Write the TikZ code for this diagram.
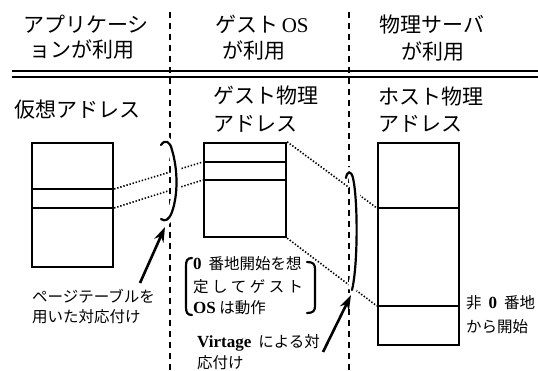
\documentclass[tikz,border=0pt]{standalone}
\usepackage{fontspec}
\setmainfont{Liberation Serif}
\newfontfamily\jp{Noto Sans CJK JP}
\usetikzlibrary{arrows.meta,calc}
\newcommand{\lat}[1]{{\fontsize{17}{18}\selectfont\rmfamily\bfseries #1}}
\begin{document}
\begin{tikzpicture}[x=1pt,y=-1pt,
  hdr/.style={inner sep=0pt, font=\fontsize{21}{24}\selectfont\jp},
  lbl/.style={inner sep=0pt, anchor=west, font=\fontsize{15.5}{18}\selectfont\jp},
  dsh/.style={line width=2.3pt, dash pattern=on 6pt off 5pt},
  dbl/.style={line width=2.6pt},
  boxst/.style={draw, line width=2.3pt, inner sep=0pt, fill=white},
  divst/.style={line width=2.3pt},
  dot/.style={line width=1.6pt, dash pattern=on 1.4pt off 1.8pt},
  brk/.style={line width=2.2pt, line cap=round},
  wbrk/.style={line width=9pt, white},
  arr/.style={line width=2.6pt, -{Stealth[length=15pt,width=10pt]}}
]
\fill[white] (0,0) rectangle (538,371);
\useasboundingbox (0,0) rectangle (538,371);

% helper y levels
\coordinate (y143) at (0,143);
\coordinate (y162) at (0,162);
\coordinate (y180) at (0,180);
\coordinate (y189) at (0,189);
\coordinate (y208) at (0,208);
\coordinate (y306) at (0,306);

% dashed column separators
\coordinate (d1t) at (170,12); \coordinate (d1b) at (170,371);
\coordinate (d2t) at (349,12); \coordinate (d2b) at (349,371);
\draw[dsh] (d1t) -- (d1b);
\draw[dsh] (d2t) -- (d2b);

% double rule
\coordinate (h1l) at (12,71); \coordinate (h1r) at (538,71);
\coordinate (h2l) at (12,77); \coordinate (h2r) at (538,77);
\draw[dbl] (h1l) -- (h1r);
\draw[dbl] (h2l) -- (h2r);

% boxes
\node[boxst, minimum width=81pt, minimum height=124pt] (vb) at (72.5,205) {};
\node[boxst, minimum width=82pt, minimum height=94pt] (gb) at (245,190) {};
\node[boxst, minimum width=81pt, minimum height=202pt] (hb) at (418.5,244) {};
\draw[divst] (vb.west |- y189) -- (vb.east |- y189);
\draw[divst] (vb.west |- y208) -- (vb.east |- y208);
\draw[divst] (gb.west |- y162) -- (gb.east |- y162);
\draw[divst] (gb.west |- y180) -- (gb.east |- y180);
\draw[divst] (hb.west |- y208) -- (hb.east |- y208);
\draw[divst] (hb.west |- y306) -- (hb.east |- y306);

% dotted mapping lines
\draw[dot] (vb.east |- y189) -- (gb.west |- y162);
\draw[dot] (vb.east |- y208) -- (gb.west |- y180);
\draw[dot] (gb.north east) -- (hb.west |- y208);
\draw[dot] (gb.south east) -- (hb.west |- y306);

% mapping brackets
\draw[wbrk] (161,145) .. controls (165,139) and (170,141) .. (172,150)
  .. controls (178,170) and (178,195) .. (172,212)
  .. controls (169,220) and (165,222) .. (161,219);
\draw[brk] (161,145) .. controls (165,139) and (170,141) .. (172,150)
  .. controls (178,170) and (178,195) .. (172,212)
  .. controls (169,220) and (165,222) .. (161,219);
\draw[wbrk] (346,178) .. controls (347,171) and (351,170) .. (353,178)
  .. controls (358,200) and (358,265) .. (352,290);
\draw[brk] (346,178) .. controls (347,171) and (351,170) .. (353,178)
  .. controls (358,200) and (358,265) .. (352,290);

% arrows
\coordinate (a1t) at (140,283); \coordinate (a1h) at (165,227);
\coordinate (a2t) at (323,352); \coordinate (a2h) at (351,295);
\draw[arr] (a1t) -- (a1h);
\draw[arr] (a2t) -- (a2h);

% text brackets
\draw[brk] (192,258) .. controls (187,258) and (186,261) .. (186,266) -- (186,307)
  .. controls (186,312) and (187,315) .. (192,315);
\draw[brk] (307,262) .. controls (313,262) and (315,264) .. (315,269) -- (315,306)
  .. controls (315,311) and (313,313) .. (307,313);

% header texts
\node[hdr] (t1) at (86,24) {アプリケーシ};
\node[hdr] (t2) at (82,50) {ョンが利用};
\node[hdr] (t3) at (262,24) {ゲスト\,{\rmfamily OS}};
\node[hdr] (t4) at (254,51) {が利用};
\node[hdr] (t5) at (432,25) {物理サーバ};
\node[hdr] (t6) at (433,52) {が利用};
\node[hdr] (t7) at (77,110) {仮想アドレス};
\node[hdr, anchor=west] (t8) at (213,96) {ゲスト物理};
\node[hdr, anchor=west] (t9) at (213,124) {アドレス};
\node[hdr, anchor=west] (t10) at (378,97) {ホスト物理};
\node[hdr, anchor=west] (t11) at (378,124) {アドレス};

% lower labels
\node[lbl] (t12) at (32,296) {ページテーブルを};
\node[lbl] (t13) at (32,317) {用いた対応付け};
\node[lbl] (t14) at (193,264) {\lat{0}\ \ 番地開始を想};
\node[lbl] (t15) at (193,287) {\hbox to 110pt{定\hfill し\hfill て\hfill ゲ\hfill ス\hfill ト}};
\node[lbl] (t16) at (193,308) {\lat{OS} は動作};
\node[lbl] (t17) at (197,343) {\lat{Virtage}\ \ による対};
\node[lbl] (t18) at (197,363) {応付け};
\node[lbl] (t19) at (466,303) {非\ \ \lat{0}\ \ 番地};
\node[lbl] (t20) at (466,327) {から開始};
\end{tikzpicture}
\end{document}
